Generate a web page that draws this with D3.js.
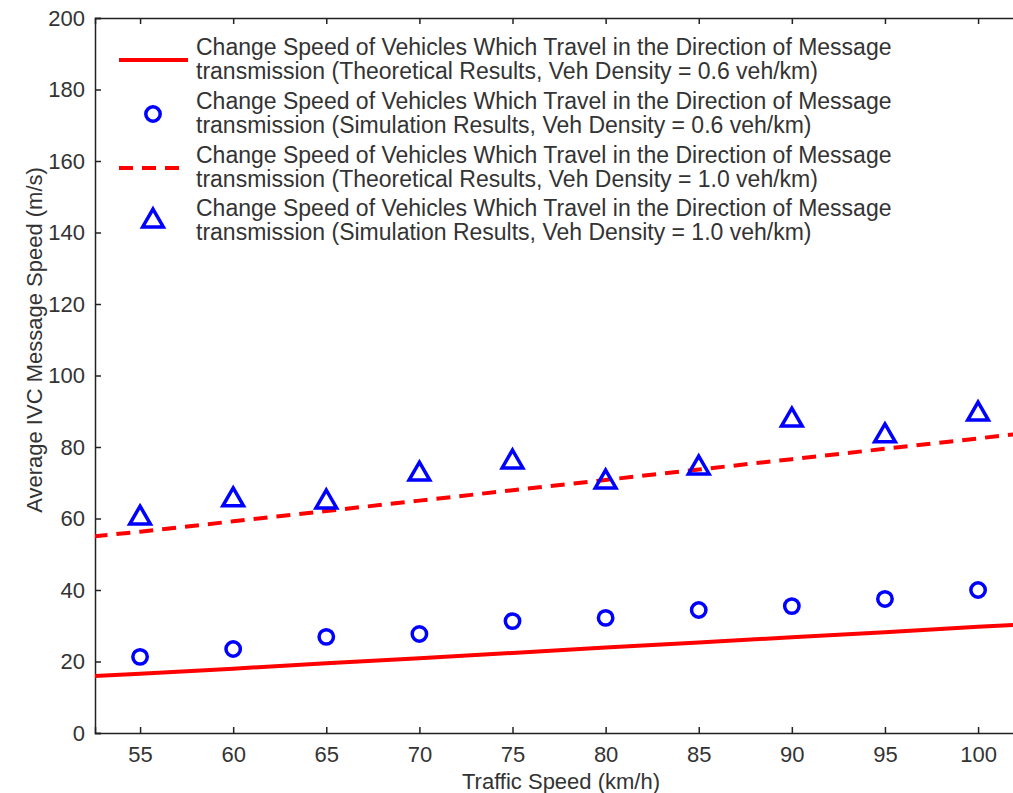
<!DOCTYPE html>
<html><head><meta charset="utf-8">
<script src="https://cdn.jsdelivr.net/npm/d3@7"></script>
<style>body{margin:0;background:#fff;}svg{display:block;font-family:"Liberation Sans",Arial,sans-serif;}</style>
</head><body><svg id="c" width="1013" height="793"></svg>
<script>
const xTicks = [55,60,65,70,75,80,85,90,95,100];
const yTicks = [0,20,40,60,80,100,120,140,160,180,200];
const speeds = [55,60,65,70,75,80,85,90,95,100];
const simLow = [21.3,23.5,26.9,27.7,31.3,32.2,34.4,35.5,37.5,40.0];
const simHigh = [60.4,65.5,64.9,72.7,76.1,70.5,74.4,87.8,83.4,89.5];
const theoX = [52.5,55,60,65,70,75,80,85,90,95,100,102.5];
const theoLow = [15.9,16.6,18.0,19.5,20.9,22.4,23.9,25.3,26.8,28.2,29.7,30.4];
const theoHigh = [55.0,56.3,59.2,62.1,65.0,67.9,70.8,73.7,76.6,79.5,82.4,83.9];
const legendLabels = [
  ["Change Speed of Vehicles Which Travel in the Direction of Message","transmission (Theoretical Results, Veh Density = 0.6 veh/km)"],
  ["Change Speed of Vehicles Which Travel in the Direction of Message","transmission (Simulation Results, Veh Density = 0.6 veh/km)"],
  ["Change Speed of Vehicles Which Travel in the Direction of Message","transmission (Theoretical Results, Veh Density = 1.0 veh/km)"],
  ["Change Speed of Vehicles Which Travel in the Direction of Message","transmission (Simulation Results, Veh Density = 1.0 veh/km)"]
];

const svg = d3.select("#c");
const L=95, T=18, B=733;
const pxPer = (978-140)/45;
const x = d3.scaleLinear().domain([52.58,102.5]).range([L, L+(102.5-52.58)*pxPer]);
const y = d3.scaleLinear().domain([0,200]).range([B,T]);
const R = x(102.5);
const txt = "#333";
const blue = "#0000ff", red = "#ff0000";
const FS = 22;

svg.append("defs").append("clipPath").attr("id","clip").append("rect")
  .attr("x",L).attr("y",T).attr("width",R-L).attr("height",B-T);

// axes
const xa = svg.append("g").attr("transform",`translate(0,${B})`)
  .call(d3.axisBottom(x).tickValues(xTicks).tickSize(-6).tickPadding(13).tickFormat(d3.format("d")));
const xt = svg.append("g").attr("transform",`translate(0,${T})`)
  .call(d3.axisTop(x).tickValues(xTicks).tickSize(-6).tickFormat(""));
const ya = svg.append("g").attr("transform",`translate(${L},0)`)
  .call(d3.axisLeft(y).tickValues(yTicks).tickSize(-6).tickPadding(10));
[xa,xt,ya].forEach(g=>{
  g.select(".domain").attr("stroke","#222").attr("stroke-width",1.5);
  g.selectAll(".tick line").attr("stroke","#222").attr("stroke-width",1.5);
  g.selectAll(".tick text").attr("fill",txt).attr("font-size",FS).attr("font-family","Liberation Sans, Arial, sans-serif");
});

// axis titles
svg.append("text").attr("x",561).attr("y",789).attr("text-anchor","middle")
  .attr("font-size",FS).attr("fill",txt).text("Traffic Speed (km/h)");
svg.append("text").attr("transform",`translate(42,340) rotate(-90)`).attr("text-anchor","middle")
  .attr("font-size",FS).attr("fill",txt).text("Average IVC Message Speed (m/s)");

const plot = svg.append("g").attr("clip-path","url(#clip)");
const line = d3.line().x(d=>x(d[0])).y(d=>y(d[1]));
plot.append("path").datum(theoX.map((v,i)=>[v,theoLow[i]])).attr("d",line)
  .attr("fill","none").attr("stroke",red).attr("stroke-width",4);
plot.append("path").datum(theoX.map((v,i)=>[v,theoHigh[i]])).attr("d",line)
  .attr("fill","none").attr("stroke",red).attr("stroke-width",4).attr("stroke-dasharray","14,9");

const tri = d3.symbol().type(d3.symbolTriangle).size(185);
plot.selectAll("circle.sl").data(speeds).join("circle")
  .attr("cx",d=>x(d)).attr("cy",(d,i)=>y(simLow[i])).attr("r",7.2)
  .attr("fill","none").attr("stroke",blue).attr("stroke-width",3.5);
plot.selectAll("path.sh").data(speeds).join("path").attr("class","sh")
  .attr("transform",(d,i)=>`translate(${x(d)},${y(simHigh[i])+1})`).attr("d",tri)
  .attr("fill","none").attr("stroke",blue).attr("stroke-width",3.5).attr("stroke-linejoin","miter");

// legend
const lg = svg.append("g");
const rowY = [60,114,168,221];
legendLabels.forEach((lines,i)=>{
  lines.forEach((s,j)=>{
    lg.append("text").attr("x",196).attr("y",rowY[i]-5+j*24).attr("font-size",23).attr("fill",txt).text(s);
  });
});
lg.append("line").attr("x1",119).attr("x2",188).attr("y1",rowY[0]).attr("y2",rowY[0]).attr("stroke",red).attr("stroke-width",4);
lg.append("circle").attr("cx",153).attr("cy",rowY[1]).attr("r",7.2).attr("fill","none").attr("stroke",blue).attr("stroke-width",3.5);
lg.append("line").attr("x1",119).attr("x2",188).attr("y1",rowY[2]).attr("y2",rowY[2]).attr("stroke",red).attr("stroke-width",4).attr("stroke-dasharray","14,9");
lg.append("path").attr("transform",`translate(153,${rowY[3]})`).attr("d",tri).attr("fill","none").attr("stroke",blue).attr("stroke-width",3.5);
</script></body></html>
